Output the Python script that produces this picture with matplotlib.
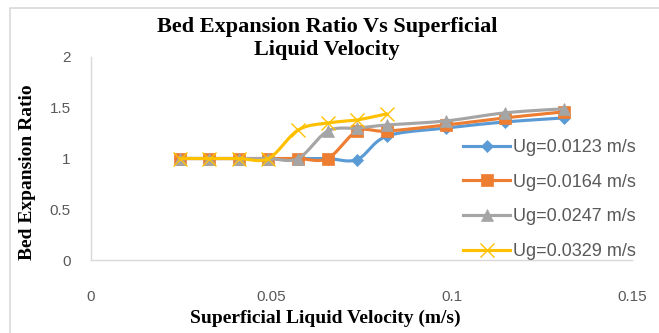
import numpy as np
import matplotlib
matplotlib.use("Agg")
import matplotlib.pyplot as plt
from matplotlib.lines import Line2D

# Superficial liquid velocity (m/s)
liquid_velocity = [0.0246, 0.0328, 0.0410, 0.0492, 0.0574, 0.0656, 0.0738, 0.0820, 0.0984, 0.1148, 0.1312]

# Bed expansion ratio for each gas velocity
ratio_ug_0123 = [1.0, 1.0, 1.0, 1.0, 1.0, 1.0, 0.99, 1.22, 1.30, 1.36, 1.40]
ratio_ug_0164 = [1.0, 1.0, 1.0, 1.0, 1.0, 1.0, 1.27, 1.27, 1.33, 1.40, 1.46]
ratio_ug_0247 = [1.0, 1.0, 1.0, 1.0, 1.0, 1.27, 1.30, 1.33, 1.37, 1.45, 1.49]
ratio_ug_0329 = [1.0, 1.0, 1.0, 1.0, 1.28, 1.35, 1.38, 1.44]

labels = ["Ug=0.0123 m/s", "Ug=0.0164 m/s", "Ug=0.0247 m/s", "Ug=0.0329 m/s"]
colors = ["#5B9BD5", "#ED7D31", "#A5A5A5", "#FFC000"]
markers = ["D", "s", "^", "x"]
marker_sizes = [6.5, 9, 9, 10]


def smooth(x, y, steps=20):
    """Catmull-Rom curve through the points (same look as spreadsheet smoothed lines)."""
    x = np.asarray(x, float)
    y = np.asarray(y, float)
    px = np.concatenate([[x[0]], x, [x[-1]]])
    py = np.concatenate([[y[0]], y, [y[-1]]])
    t = np.linspace(0, 1, steps)
    xs, ys = [], []
    for i in range(1, len(px) - 2):
        for p, out in ((px, xs), (py, ys)):
            p0, p1, p2, p3 = p[i - 1], p[i], p[i + 1], p[i + 2]
            c1 = p1 + (p2 - p0) / 6
            c2 = p2 - (p3 - p1) / 6
            seg = ((1 - t) ** 3 * p1 + 3 * (1 - t) ** 2 * t * c1
                   + 3 * (1 - t) * t ** 2 * c2 + t ** 3 * p2)
            out.extend(seg if i == 1 else seg[1:])
    return np.array(xs), np.array(ys)


fig = plt.figure(figsize=(6.59, 3.33), dpi=100)
ax = fig.add_axes([91 / 659, 1 - 260 / 333, 541 / 659, 203 / 333])

series = [ratio_ug_0123, ratio_ug_0164, ratio_ug_0247, ratio_ug_0329]
handles = []
for ys, lab, col, mk, ms in zip(series, labels, colors, markers, marker_sizes):
    xs = liquid_velocity[:len(ys)]
    sx, sy = smooth(xs, ys)
    ax.plot(sx, sy, color=col, lw=2.25, solid_capstyle="round")
    mew = 1.0 if mk == "x" else 0.5
    ax.plot(xs, ys, linestyle="none", marker=mk, markersize=ms,
            color=col, markeredgecolor=col, markeredgewidth=mew)
    handles.append(Line2D([], [], color=col, lw=2.25, marker=mk, markersize=ms,
                          markeredgecolor=col, markeredgewidth=mew))

ax.set_xlim(0, 0.15)
ax.set_ylim(0, 2)
ax.set_xticks([0, 0.05, 0.1, 0.15])
ax.set_xticklabels(["0", "0.05", "0.1", "0.15"])
ax.set_yticks([0, 0.5, 1, 1.5, 2])
ax.set_yticklabels(["0", "0.5", "1", "1.5", "2"])
ax.tick_params(length=0, labelsize=11, labelcolor="#595959")
ax.tick_params(axis="x", pad=21.5)
ax.tick_params(axis="y", pad=14.5)
for lbl in ax.get_xticklabels() + ax.get_yticklabels():
    lbl.set_family("Liberation Sans")
for side in ("top", "right"):
    ax.spines[side].set_visible(False)
for side in ("left", "bottom"):
    ax.spines[side].set_color("#D9D9D9")
    ax.spines[side].set_linewidth(1)

leg = ax.legend(handles, labels, loc="upper left",
                bbox_to_anchor=(454 / 659, 1 - 130 / 333),
                bbox_transform=fig.transFigure, frameon=False,
                handlelength=2.6, handletextpad=0.15, labelspacing=0.98,
                borderpad=0, prop={"family": "Liberation Sans", "size": 13})
for txt in leg.get_texts():
    txt.set_color("#595959")

fig.text(327 / 659, 1 - 17 / 333, "Bed Expansion Ratio Vs Superficial\nLiquid Velocity",
         ha="center", va="top", family="Liberation Serif", weight="bold",
         fontsize=16, linespacing=1.2)
fig.text(27 / 659, 1 - 172 / 333, "Bed Expansion Ratio", rotation=90,
         ha="center", va="center", family="Liberation Serif", weight="bold", fontsize=14)
fig.text(325 / 659, 1 - 318 / 333, "Superficial Liquid Velocity (m/s)",
         ha="center", va="center", family="Liberation Serif", weight="bold", fontsize=14)

# chart area border (top and left edges)
fig.add_artist(Line2D([10 / 659, 10 / 659, 1], [0, 1 - 8 / 333, 1 - 8 / 333],
                      transform=fig.transFigure, color="#D9D9D9", lw=1.2))

fig.savefig("out.png", dpi=100)
